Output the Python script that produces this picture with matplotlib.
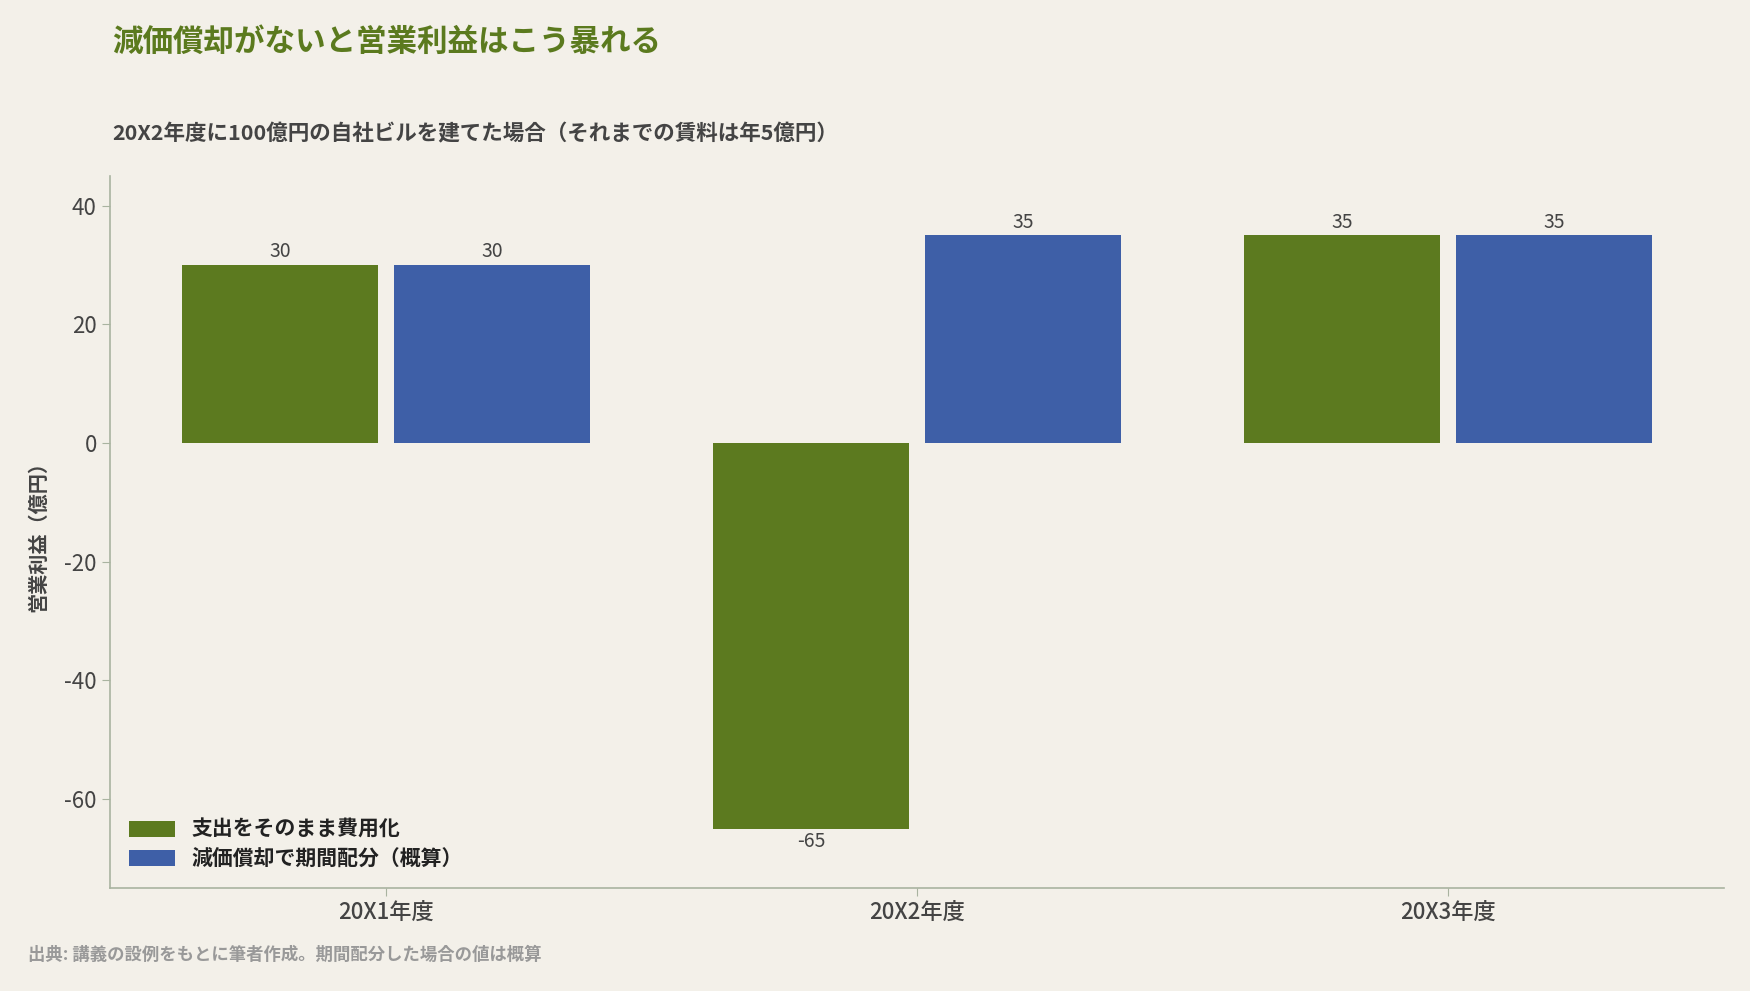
import matplotlib
matplotlib.use("Agg")
import matplotlib.pyplot as plt
import numpy as np

# ---------------------- データ ----------------------
years = ["20X1年度", "20X2年度", "20X3年度"]
expense_all = [30, -65, 35]      # 支出をそのまま費用化
depreciation = [30, 35, 35]      # 減価償却で期間配分（概算）
series_names = ["支出をそのまま費用化", "減価償却で期間配分（概算）"]

BG = "#F3F0E9"
GREEN = "#5C7A1F"
BLUE = "#3E5FA7"
TEXT = "#444444"
SPINE = "#A9B3A0"

plt.rcParams["font.family"] = ["Noto Sans CJK JP", "DejaVu Sans"]
plt.rcParams["axes.unicode_minus"] = False

fig = plt.figure(figsize=(17.5, 9.91), dpi=100, facecolor=BG)
ax = fig.add_axes([110 / 1750, 1 - 888 / 991, (1724 - 110) / 1750, (888 - 176) / 991])
ax.set_facecolor(BG)

x = np.arange(len(years))
w = 0.37
off = 0.2
b1 = ax.bar(x - off, expense_all, w, color=GREEN, label=series_names[0])
b2 = ax.bar(x + off, depreciation, w, color=BLUE, label=series_names[1])

for bars in (b1, b2):
    for rect in bars:
        v = rect.get_height()
        cx = rect.get_x() + rect.get_width() / 2
        if v >= 0:
            ax.annotate(f"{v:.0f}", (cx, v), xytext=(0, 2), textcoords="offset points",
                        ha="center", va="bottom", fontsize=14, color=TEXT)
        else:
            ax.annotate(f"{v:.0f}", (cx, v), xytext=(0, -2), textcoords="offset points",
                        ha="center", va="top", fontsize=14, color=TEXT)

ax.set_xlim(-0.52, 2.52)
ax.set_ylim(-75, 45)
ax.set_yticks([-60, -40, -20, 0, 20, 40])
ax.set_xticks(x)
ax.set_xticklabels(years, fontsize=16, color=TEXT, fontweight="medium")
ax.tick_params(axis="y", labelsize=16, colors=TEXT, color=SPINE, length=6)
ax.tick_params(axis="x", colors=TEXT, color=SPINE, length=6, pad=3)
for s in ("top", "right"):
    ax.spines[s].set_visible(False)
for s in ("left", "bottom"):
    ax.spines[s].set_color(SPINE)
    ax.spines[s].set_linewidth(1.2)

ax.set_ylabel("営業利益（億円）", fontsize=14.5, fontweight="bold", color=TEXT)
ax.yaxis.set_label_coords(-0.038, 0.5)

leg = ax.legend(loc="lower left", frameon=False, prop={"weight": "bold", "size": 15},
                handlelength=2.2, handleheight=0.8, borderaxespad=0.5, labelspacing=0.4)
for t in leg.get_texts():
    t.set_color("#222222")

fig.text(112 / 1750, 1 - 42 / 991, "減価償却がないと営業利益はこう暴れる", fontsize=22,
         fontweight="bold", color="#5B7A1E", va="center", ha="left")
fig.text(112 / 1750, 1 - 134 / 991, "20X2年度に100億円の自社ビルを建てた場合（それまでの賃料は年5億円）",
         fontsize=15.5, fontweight="bold", color=TEXT, va="center", ha="left")
fig.text(28 / 1750, 1 - 955 / 991, "出典: 講義の設例をもとに筆者作成。期間配分した場合の値は概算",
         fontsize=12.5, fontweight="bold", color="#999999", va="center", ha="left")

fig.savefig("out.png", dpi=100, facecolor=BG)
